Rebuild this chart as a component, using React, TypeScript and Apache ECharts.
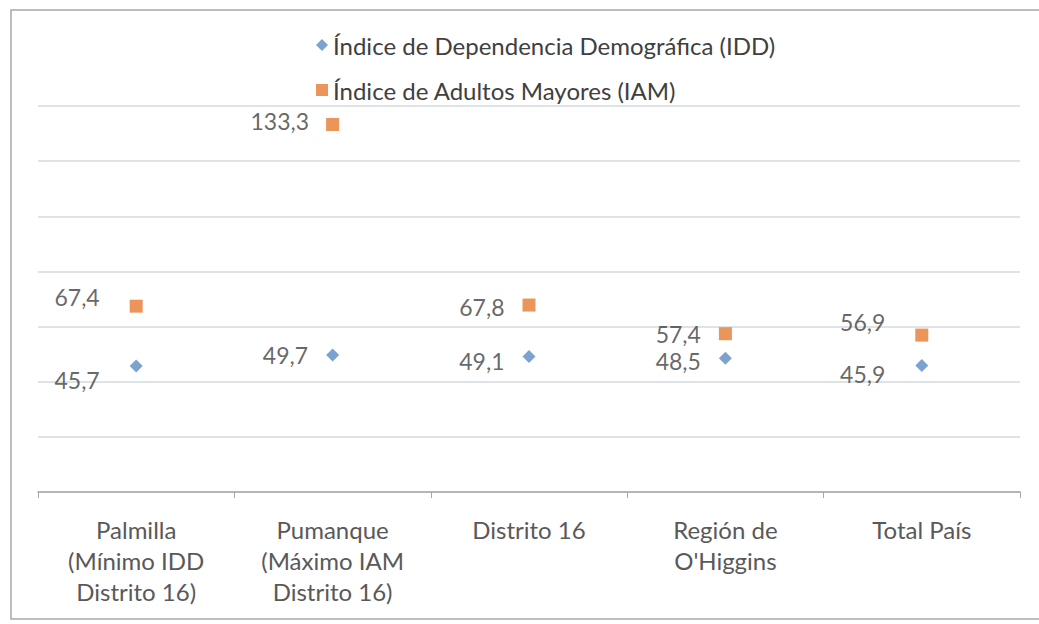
import React, { useEffect, useRef } from "react";
import * as echarts from "echarts";

const categories = [
  "Palmilla\n(Mínimo IDD\nDistrito 16)",
  "Pumanque\n(Máximo IAM\nDistrito 16)",
  "Distrito 16",
  "Región de\nO'Higgins",
  "Total País",
];
const seriesNames = [
  "Índice de Dependencia Demográfica (IDD)",
  "Índice de Adultos Mayores (IAM)",
];
const iddValues = [45.7, 49.7, 49.1, 48.5, 45.9];
const iamValues = [67.4, 133.3, 67.8, 57.4, 56.9];

// label layout (distance from marker, vertical shift)
const iddLabelLayout = [
  [30, 14],
  [18, 0],
  [18, 4],
  [18, 3],
  [30, 9],
];
const iamLabelLayout = [
  [30, -9],
  [17, -3],
  [18, 2],
  [18, 0],
  [30, -13],
];

const FONT = "Lato";
const FS = 23;
const FS_AXIS = 24;

function buildData(values: number[], layout: number[][]) {
  return values.map((v, i) => ({
    value: v,
    label: {
      show: true,
      position: "left",
      distance: layout[i][0],
      offset: [0, layout[i][1]],
      formatter: () => String(v.toFixed(1)).replace(".", ","),
      color: "#404040",
      fontFamily: FONT,
      fontSize: FS,
      lineHeight: 20,
    },
  }));
}

export default function App() {
  const ref = useRef<HTMLDivElement>(null);
  useEffect(() => {
    if (!ref.current) return;
    const chart = echarts.init(ref.current, undefined, { renderer: "svg" });
    chart.setOption({
      animation: false,
      backgroundColor: "#ffffff",
      graphic: [
        {
          type: "polyline",
          shape: { points: [[1045, 10], [11, 10], [11, 619], [1045, 619]] },
          style: { fill: "none", stroke: "#a8a8a8", lineWidth: 1.5 },
          silent: true,
        },
      ],
      legend: {
        orient: "vertical",
        left: 311,
        top: 25,
        itemWidth: 12,
        itemHeight: 12,
        itemGap: 15,
        textStyle: {
          color: "#404040",
          fontFamily: FONT,
          fontSize: FS_AXIS,
          lineHeight: 30,
        },
        data: [
          { name: seriesNames[0], icon: "diamond" },
          { name: seriesNames[1], icon: "rect" },
        ],
      },
      grid: { left: 38, right: 19, top: 106, bottom: 132 },
      xAxis: {
        type: "category",
        data: categories,
        boundaryGap: true,
        axisLine: { show: true, lineStyle: { color: "#a6a6a6", width: 1.5 } },
        axisTick: { show: true, length: 6, lineStyle: { color: "#a6a6a6" } },
        axisLabel: {
          color: "#595959",
          fontFamily: FONT,
          fontSize: FS_AXIS,
          lineHeight: 31,
          margin: 22,
          interval: 0,
        },
        splitLine: { show: false },
      },
      yAxis: {
        type: "value",
        min: 0,
        max: 140,
        interval: 20,
        axisLabel: { show: false },
        axisLine: { show: false },
        axisTick: { show: false },
        splitLine: { show: true, lineStyle: { color: "#d3dae1", width: 1.5 } },
      },
      series: [
        {
          name: seriesNames[0],
          type: "scatter",
          symbol: "diamond",
          symbolSize: 13,
          itemStyle: { color: "#5b8cc4" },
          data: buildData(iddValues, iddLabelLayout),
        },
        {
          name: seriesNames[1],
          type: "scatter",
          symbol: "rect",
          symbolSize: 13,
          itemStyle: { color: "#e67a32" },
          data: buildData(iamValues, iamLabelLayout),
        },
      ],
    });
    return () => chart.dispose();
  }, []);
  return (
    <div
      ref={ref}
      style={{ position: "fixed", left: 0, top: 0, width: 1039, height: 624, background: "#fff" }}
    />
  );
}
